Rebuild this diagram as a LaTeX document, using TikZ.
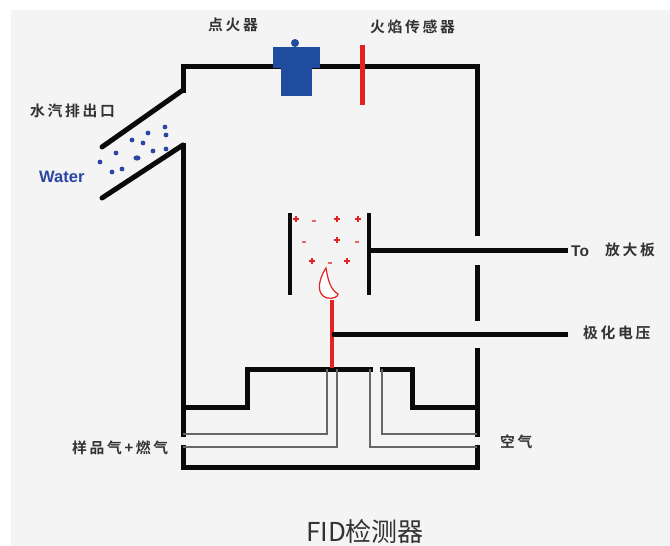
\documentclass[tikz,border=0pt]{standalone}
\usepackage{fontspec}
\setmainfont{Liberation Sans}
\newfontfamily\cjklab{Noto Sans CJK SC Bold}[LetterSpace=18]
\newfontfamily\cjktitle{Noto Sans CJK SC}
\definecolor{bggray}{HTML}{F4F4F4}
\definecolor{wallc}{HTML}{0A0A0A}
\definecolor{tubec}{HTML}{666666}
\definecolor{flamered}{HTML}{E2231F}
\definecolor{ignblue}{HTML}{1F4C9E}
\definecolor{waterblue}{HTML}{2B45A3}
\definecolor{labelc}{HTML}{333333}
\tikzset{
  wall/.style={draw=wallc, line width=5pt, line join=miter, line cap=rect},
  diag/.style={draw=wallc, line width=5pt, line cap=round, line join=miter},
  tube/.style={draw=tubec, line width=1.6pt, line join=miter},
  electrode/.style={draw=wallc, line width=4pt},
  redbar/.style={draw=flamered, line width=4.5pt},
  drop/.style={fill=waterblue, draw=none},
  lab/.style={text=labelc, font=\cjklab\fontsize{14.8}{16}\selectfont, inner sep=0pt},
  ion/.style={draw=flamered, line width=1.5pt},
  ionneg/.style={draw=flamered!70, line width=1.2pt}
}
\begin{document}
\begin{tikzpicture}[x=1pt, y=-1pt]
% canvas
\fill[white] (0,0) rectangle (670,546);
\fill[bggray] (11,10) rectangle (670,546);
\useasboundingbox (0,0) rectangle (670,546);

% housing: top, left corner and right wall with feed-throughs
\draw[wall] (183,90) -- (183,66) -- (477,66) -- (477,233);
\draw[wall] (477,267) -- (477,318);
\draw[wall] (477,350) -- (477,434);
% vapour outlet duct
\draw[diag] (102,147) -- (183,90);
\draw[diag] (102,198) -- (183,145);
\draw[wall] (183,145) -- (183,434);

% burner base
\draw[wall] (183,407) -- (247,407) -- (247,369) -- (370,369);
\draw[wall] (382,369) -- (412,369) -- (412,407) -- (477,407);
\draw[wall] (183,447) -- (183,467) -- (477,467) -- (477,447);

% gas tubes
\draw[tube] (183,434) -- (327,434) -- (327,369);
\draw[tube] (183,447) -- (337,447) -- (337,369);
\draw[tube] (370,369) -- (370,447) -- (477,447);
\draw[tube] (382,369) -- (382,434) -- (477,434);

% jet and polarising lead
\draw[redbar] (332,300) -- (332,368);
\draw[wall] (334,334) -- (565,334);

% collector electrode
\draw[electrode] (290,213) -- (290,295);
\draw[electrode] (369,213) -- (369,295);
\draw[wall] (371,250) -- (565,250);

% flame
\draw[flamered, line width=1.2pt, fill=white]
  (326,268) .. controls (317,282) and (317,295) .. (327,298)
  .. controls (333,299) and (338,297) .. (338,294)
  .. controls (331,290) and (328,281) .. (326,268) -- cycle;

% ions
\foreach \px/\py in {296/219, 337/219, 358/219, 337/240, 312/261, 347/261}{
  \draw[ion] (\px-3.2,\py) -- (\px+3.2,\py);
  \draw[ion] (\px,\py-3.2) -- (\px,\py+3.2);
}
\foreach \px/\py in {314/221, 304/242, 357/242, 330/263}{
  \draw[ionneg] (\px-2,\py) -- (\px+2,\py);
}

% igniter
\fill[ignblue] (295,43) circle (4);
\fill[ignblue] (273,47) rectangle (320,68);
\fill[ignblue] (281,66) rectangle (312,96);

% flame sensor
\draw[redbar, line width=5pt] (362,45) -- (362,105);

% water droplets
\foreach \px/\py in {165/127, 166/135, 148/133, 132/140, 143/143, 153/151,
                     166/149, 116/153, 100/162, 112/172, 122/169}{
  \fill[drop] (\px,\py) circle (2.4);
}
\fill[drop] (137,158) ellipse (3.6 and 2.6);

% labels
\node[lab, anchor=west] (ign) at (208,25) {点火器};
\node[lab, anchor=west] (sens) at (370,27) {火焰传感器};
\node[lab, anchor=west] (vent) at (30,111) {水汽排出口};
\node[anchor=west, inner sep=0pt, text=waterblue, font=\bfseries\fontsize{16.5}{18}\selectfont] (water) at (39,177) {Water};
\node[anchor=west, inner sep=0pt, text=labelc, font=\bfseries\fontsize{15.5}{17}\selectfont] (to) at (571,251) {To};
\node[lab, anchor=west] (amp) at (605,250) {放大板};
\node[lab, anchor=west] (pol) at (583,333) {极化电压};
\node[lab, anchor=west] (samp) at (72,448) {样品气+燃气};
\node[lab, anchor=west] (air) at (500,442) {空气};
\node[anchor=base, inner sep=0pt, text=black!80, font=\cjktitle\fontsize{26}{28}\selectfont] (title) at (365,541) {FID检测器};
\end{tikzpicture}
\end{document}
